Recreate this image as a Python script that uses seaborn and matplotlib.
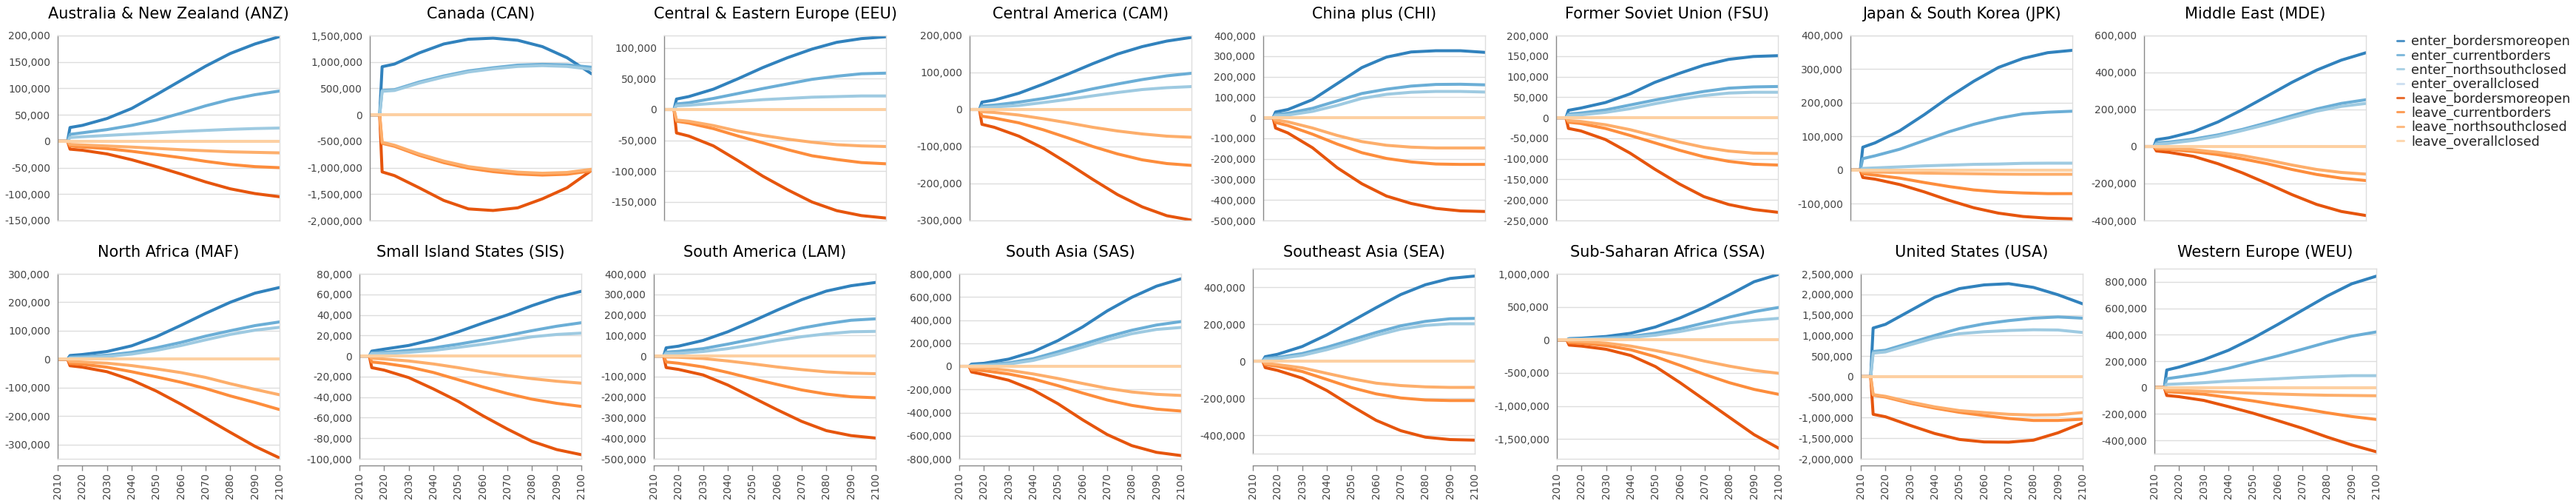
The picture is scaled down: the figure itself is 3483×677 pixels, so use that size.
import pandas as pd
import matplotlib.pyplot as plt
import seaborn as sns
from matplotlib.ticker import MultipleLocator, FuncFormatter
from matplotlib.lines import Line2D

plt.switch_backend('Agg')

sns.set_style('white')
plt.rcParams['font.family'] = ['DejaVu Sans']

# anos (2010 e 2014 ainda zerados, o salto acontece em 2015)
years = [2010, 2014, 2015, 2020, 2030, 2040, 2050, 2060, 2070, 2080, 2090, 2100]

series_names = ['enter_bordersmoreopen', 'enter_currentborders', 'enter_northsouthclosed', 'enter_overallclosed',
                'leave_bordersmoreopen', 'leave_currentborders', 'leave_northsouthclosed', 'leave_overallclosed']
series_colors = ['#3182bd', '#6baed6', '#9ecae1', '#c6dbef', '#e6550d', '#fd8d3c', '#fdae6b', '#fdd0a2']

# valores em milhares para 2015, 2020, 2030 ... 2100
# ordem: enter open, enter current, enter northsouth, leave open, leave current, leave northsouth
# (overallclosed fica em zero o tempo todo)
anz = [[26, 30, 43, 62, 88, 115, 142, 166, 184, 198],
       [13, 16, 22, 30, 40, 53, 67, 79, 88, 95],
       [7, 8.5, 11, 13.5, 16, 18.5, 20.5, 22.5, 24, 25],
       [-15, -17, -24, -35, -48, -62, -77, -90, -99, -105],
       [-9, -11, -14, -19, -25, -31, -38, -44, -48, -50],
       [-6, -7, -9, -11, -13.5, -16, -18, -20, -21, -22]]
can = [[910, 960, 1170, 1340, 1430, 1450, 1410, 1290, 1080, 775],
       [460, 475, 620, 735, 830, 890, 940, 955, 945, 900],
       [445, 460, 600, 715, 810, 870, 915, 930, 915, 860],
       [-1080, -1150, -1380, -1620, -1780, -1810, -1760, -1590, -1380, -1050],
       [-540, -595, -765, -905, -1010, -1075, -1120, -1140, -1125, -1060],
       [-520, -575, -740, -875, -980, -1040, -1085, -1105, -1090, -1030]]
eeu = [[17, 21, 33, 50, 68, 84, 98, 109, 115, 118],
       [9, 11, 18, 26, 34, 41.5, 49, 54, 58, 59],
       [6, 7, 10, 13, 16, 18, 20, 21, 22, 22],
       [-38, -43, -59, -83, -108, -130, -150, -164, -172, -176],
       [-19, -22, -31, -43, -54, -65, -75, -81, -86, -88],
       [-17, -19, -26, -35, -42, -48, -53, -57, -59, -60]]
cam = [[20, 25.5, 44, 69, 96, 124, 150, 170, 185, 195],
       [10, 12, 20, 30, 42, 56, 69, 81, 91, 98],
       [5, 7, 11, 19, 27.5, 37, 46, 54, 59, 62],
       [-40, -48, -72, -105, -146, -189, -230, -263, -287, -299],
       [-18, -23, -36, -55, -77, -100, -120, -136, -146, -151],
       [-6, -8, -15, -25, -36, -48, -58, -66, -72, -75]]
chi = [[28, 40, 88, 166, 244, 295, 320, 326, 326, 318],
       [16, 22, 46, 82, 118, 139, 154, 162, 163, 160],
       [10, 13, 31, 60, 94, 114, 124, 128, 128, 125],
       [-50, -74, -146, -243, -321, -381, -417, -441, -453, -456],
       [-23, -38, -80, -128, -170, -198, -215, -225, -227, -227],
       [-11, -20, -50, -86, -116, -134, -143, -147, -147, -147]]
fsu = [[18, 23.5, 37, 58, 86, 108, 128, 142, 149, 151],
       [9, 11.5, 19, 31, 43, 54, 64, 72, 75, 76],
       [6, 7, 13, 22, 34, 45, 54, 60, 62, 62],
       [-26, -32, -53, -86, -125, -161, -192, -211, -223, -230],
       [-11, -14, -26, -43, -61, -79, -95, -106, -113, -115],
       [-7, -9, -17, -29, -44, -59, -72, -81, -86, -87]]
jpk = [[68, 81, 117, 165, 217, 264, 305, 332, 349, 356],
       [34, 42.5, 62, 88, 114, 136, 154, 167, 172, 175],
       [5, 6.5, 9.5, 12.5, 14.7, 17, 18, 20, 20.5, 20.5],
       [-22, -27, -43, -65, -90, -112, -128, -138, -143, -145],
       [-11, -15, -24, -37, -49, -59, -65, -68, -70, -70],
       [-5, -6, -7.5, -9, -10, -11, -12, -12.5, -12.5, -12.5]]
mde = [[37, 47, 80, 133, 200, 273, 347, 413, 467, 507],
       [20, 24, 40, 63, 93, 129, 167, 203, 233, 253],
       [13, 17, 33, 56, 87, 120, 156, 191, 217, 233],
       [-24, -31, -53, -93, -143, -200, -260, -313, -351, -373],
       [-13, -16, -27, -44, -67, -93, -124, -151, -171, -184],
       [-7, -9, -17, -31, -49, -73, -100, -124, -140, -149]]
maf = [[13, 16.5, 27, 47, 79, 119, 161, 200, 232, 252],
       [7, 8.7, 14, 24, 40, 59, 81, 100, 118, 131],
       [4, 5, 9.5, 18, 31, 48, 68, 87, 102, 112],
       [-23, -28, -44, -73, -112, -158, -207, -257, -306, -347],
       [-15, -18, -28, -44, -62, -81, -103, -129, -152, -177],
       [-8, -10, -14, -22.5, -34, -47, -64, -86, -106, -125]]
sis = [[4.8, 6.7, 10.3, 16, 23.5, 32, 40, 49, 57, 63],
       [3.1, 3.6, 5.5, 8, 11.5, 15.6, 20, 24.7, 29, 32.4],
       [2.2, 2.4, 3.6, 5.5, 8.4, 11.5, 15, 18.7, 21, 22.3],
       [-11.3, -13.7, -21, -32, -44, -58, -71, -83, -91, -96],
       [-5.8, -7, -10.6, -16, -23, -30, -36.5, -42, -46, -49],
       [-2.2, -2.9, -4.8, -7.7, -11.3, -15.4, -19, -22, -24.5, -26.4]]
lam = [[40, 48, 76, 118, 169, 223, 274, 316, 342, 358],
       [19, 23, 36, 58, 82, 108, 136, 157, 174, 181],
       [12, 13, 22, 36, 55, 76, 94, 108, 118, 120],
       [-56, -65, -92, -141, -201, -261, -318, -363, -387, -399],
       [-29, -35, -53, -80, -110, -138, -165, -185, -198, -203],
       [-5, -6, -12, -24, -38, -53, -66, -77, -83, -86]]
sas = [[19, 26, 62, 126, 222, 340, 479, 597, 693, 757],
       [9, 13, 30, 66, 126, 190, 255, 312, 357, 387],
       [4, 6, 19, 51, 105, 165, 229, 282, 319, 336],
       [-49, -71, -120, -205, -323, -462, -590, -686, -744, -772],
       [-30, -38, -66, -109, -167, -231, -291, -338, -370, -387],
       [-11, -15, -34, -66, -105, -148, -190, -222, -242, -252]]
sea = [[24, 37, 79, 142, 215, 289, 360, 413, 447, 460],
       [15, 20, 41, 75, 115, 155, 191, 215, 229, 231],
       [9, 13, 31, 62, 99, 139, 173, 193, 202, 202],
       [-35, -50, -92, -159, -242, -320, -376, -411, -424, -427],
       [-19, -28, -56, -99, -143, -177, -199, -210, -213, -213],
       [-12, -19, -36, -66, -95, -119, -132, -139, -142, -142]]
ssa = [[19, 26, 52, 101, 195, 333, 494, 682, 880, 993],
       [11, 15, 30, 52, 101, 169, 258, 345, 427, 491],
       [7, 9, 19, 37, 71, 127, 195, 258, 296, 326],
       [-79, -94, -142, -236, -404, -648, -910, -1172, -1434, -1640],
       [-41, -52, -86, -150, -255, -386, -524, -648, -749, -824],
       [-19, -26, -49, -94, -161, -236, -322, -397, -461, -506]]
usa = [[1181, 1271, 1601, 1930, 2140, 2230, 2260, 2170, 1990, 1769],
       [611, 641, 821, 1001, 1169, 1283, 1361, 1421, 1451, 1421],
       [570, 600, 773, 941, 1043, 1091, 1121, 1139, 1133, 1073],
       [-917, -977, -1187, -1385, -1529, -1589, -1595, -1547, -1367, -1127],
       [-450, -498, -648, -767, -869, -947, -1019, -1067, -1067, -1037],
       [-438, -480, -618, -737, -827, -875, -917, -935, -929, -875]]
weu = [[133, 155, 211, 282, 374, 477, 585, 692, 785, 843],
       [67, 80, 108, 146, 193, 239, 290, 342, 389, 421],
       [24, 28, 37, 49, 58, 67, 77, 84, 90, 90],
       [-60, -69, -97, -144, -194, -250, -308, -374, -434, -486],
       [-32, -37, -50, -75, -101, -131, -159, -191, -219, -241],
       [-19, -22, -28, -36, -43, -49, -54, -58, -60, -62]]

regions = ['Australia & New Zealand (ANZ)', 'Canada (CAN)', 'Central & Eastern Europe (EEU)',
           'Central America (CAM)', 'China plus (CHI)', 'Former Soviet Union (FSU)',
           'Japan & South Korea (JPK)', 'Middle East (MDE)',
           'North Africa (MAF)', 'Small Island States (SIS)', 'South America (LAM)', 'South Asia (SAS)',
           'Southeast Asia (SEA)', 'Sub-Saharan Africa (SSA)', 'United States (USA)', 'Western Europe (WEU)']
region_data = [anz, can, eeu, cam, chi, fsu, jpk, mde, maf, sis, lam, sas, sea, ssa, usa, weu]

# limites do eixo y e passo dos ticks
y_limits = [(-150e3, 200e3), (-2e6, 1.5e6), (-180e3, 120e3), (-300e3, 200e3), (-500e3, 400e3),
            (-250e3, 200e3), (-150e3, 400e3), (-400e3, 600e3),
            (-350e3, 300e3), (-100e3, 80e3), (-500e3, 400e3), (-800e3, 800e3), (-500e3, 500e3),
            (-1.8e6, 1e6), (-2e6, 2.5e6), (-500e3, 900e3)]
y_steps = [50e3, 500e3, 50e3, 100e3, 100e3, 50e3, 100e3, 200e3,
           100e3, 20e3, 100e3, 200e3, 200e3, 500e3, 500e3, 200e3]

# posição de cada painel em pixels (esquerda, topo)
W, H = 3483, 677
panel_left = [78, 500, 898, 1311, 1708, 2104, 2502, 2899,
              78, 486, 884, 1297, 1694, 2105, 2516, 2913]
panel_top = [48] * 8 + [370, 370, 370, 370, 363, 370, 370, 363]
PW, PH = 300, 250
XAXIS_Y = 629

fig = plt.figure(figsize=(W / 100, H / 100), dpi=100)
fig.patch.set_facecolor('white')

fmt = FuncFormatter(lambda v, p: f'{int(round(v)):,}')

for i, region in enumerate(regions):
    data = region_data[i]
    rows = []
    for j, name in enumerate(series_names):
        if name.endswith('overallclosed'):
            vals = [0] * len(years)
        else:
            k = j if j < 3 else j - 1
            vals = [0, 0] + [v * 1000 for v in data[k]]
        for yr, v in zip(years, vals):
            rows.append({'ano': yr, 'valor': v, 'serie': name})
    df = pd.DataFrame(rows)

    left, top = panel_left[i], panel_top[i]
    ax = fig.add_axes([left / W, 1 - (top + PH) / H, PW / W, PH / H])
    sns.lineplot(data=df, x='ano', y='valor', hue='serie', hue_order=series_names,
                 palette=series_colors, estimator=None, linewidth=2.9, legend=False, ax=ax)

    ax.set_xlim(2010, 2100)
    ax.set_ylim(*y_limits[i])
    ax.yaxis.set_major_locator(MultipleLocator(y_steps[i]))
    ax.yaxis.set_major_formatter(fmt)
    ax.set_xticks([])
    ax.set_xlabel('')
    ax.set_ylabel('')
    ax.grid(axis='y', color='#dddddd', linewidth=1)
    for s in ax.spines.values():
        s.set_color('#dddddd')
        s.set_linewidth(1)
    ax.spines['left'].set_color('#888888')
    ax.tick_params(axis='y', length=5, width=1, color='#888888', labelsize=10, labelcolor='#444444', pad=2)

    # título do painel
    row_base = 25 if i < 8 else 347
    fig.text((left + PW / 2) / W, 1 - row_base / H, region, ha='center', va='baseline',
             fontsize=15, color='black')

    # eixo x só na linha de baixo, deslocado um pouco para baixo
    if i >= 8:
        loc = -(XAXIS_Y - (top + PH)) / PH
        sec = ax.secondary_xaxis(loc)
        sec.set_xticks(list(range(2010, 2101, 10)))
        sec.tick_params(axis='x', rotation=90, length=5, width=1, color='#888888',
                        labelsize=10, labelcolor='#444444', pad=2)
        sec.spines['bottom'].set_color('#888888')
        sec.spines['bottom'].set_linewidth(1)
        sec.set_xlabel('')

handles = [Line2D([0], [0], color=c, linewidth=2.2, alpha=0.85) for c in series_colors]
fig.legend(handles, series_names, loc='upper left', bbox_to_anchor=(3241 / W, 1 - 47 / H),
           frameon=False, fontsize=12.7, handlelength=0.5, handletextpad=0.6,
           labelspacing=0.06, borderpad=0, borderaxespad=0)

plt.savefig('out.png', dpi=100, facecolor='white')
plt.close()
